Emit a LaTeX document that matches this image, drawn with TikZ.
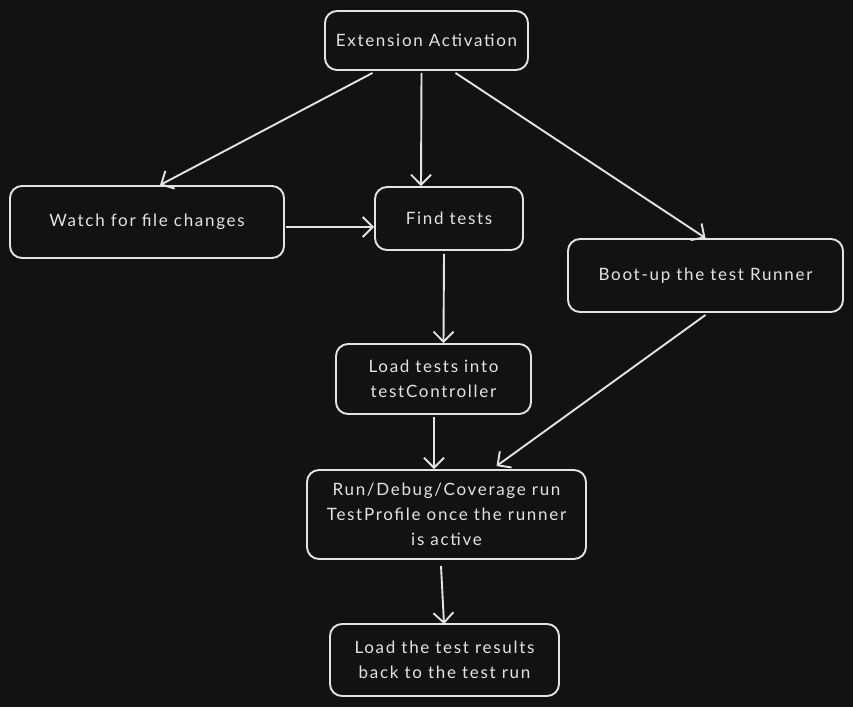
\documentclass[tikz,border=0pt]{standalone}
\usepackage{fontspec}
\setmainfont[LetterSpace=10]{Lato}
\usepackage{tikz}
\usetikzlibrary{arrows.meta, calc, positioning}

\definecolor{bgdark}{HTML}{121212}
\definecolor{chalk}{HTML}{E3E3E3}

\tikzset{
	stepbox/.style={draw=chalk, line width=1.9pt, rounded corners=12pt, text=chalk, align=center, font=\fontsize{17}{25}\selectfont, inner sep=0pt},
	flow/.style={draw=chalk, line width=1.9pt, -{Straight Barb[length=10pt,width=20pt,line width=1.9pt]}}
}

\begin{document}
\begin{tikzpicture}[x=1pt,y=-1pt]
								\fill[bgdark] (0,0) rectangle (853,707);
								\useasboundingbox (0,0) rectangle (853,707);

								\node[stepbox, minimum width=203pt, minimum height=59pt] (activate) at (426.5,40.5) {Extension Activation};
								\node[stepbox, minimum width=274pt, minimum height=72pt] (watch) at (147,222) {Watch for file changes};
								\node[stepbox, minimum width=148pt, minimum height=63pt] (find) at (449,218.5) {Find tests};
								\node[stepbox, minimum width=275pt, minimum height=73pt] (boot) at (705.5,275.5) {Boot-up the test Runner};
								\node[stepbox, minimum width=195pt, minimum height=70pt] (load) at (433.5,379) {Load tests into\\testController};
								\node[stepbox, minimum width=279pt, minimum height=89pt] (run) at (446.5,514.5) {Run/Debug/Coverage run\\TestProfile once the runner\\is active};
								\node[stepbox, minimum width=229pt, minimum height=72pt] (results) at (444.5,660) {Load the test results\\back to the test run};

								\draw[flow] ([xshift=-54pt,yshift=-2pt]activate.south) -- ([xshift=13pt]watch.north);
								\draw[flow] ([xshift=-5pt,yshift=-2pt]activate.south) -- ([xshift=-28pt]find.north);
								\draw[flow] ([xshift=29pt,yshift=-2pt]activate.south) -- (boot.north);
								\draw[flow] ([xshift=1pt,yshift=-5pt]watch.east) -- ([yshift=-8.5pt]find.west);
								\draw[flow] ([xshift=-5pt,yshift=-3pt]find.south) -- ([xshift=10pt]load.north);
								\draw[flow] ([xshift=0.5pt,yshift=-2pt]load.south) -- ([xshift=-12.5pt]run.north);
								\draw[flow] ([yshift=-2pt]boot.south) -- ([xshift=50pt,yshift=3pt]run.north);
								\draw[flow] ([xshift=-5.5pt,yshift=-6pt]run.south) -- ([xshift=-0.5pt,yshift=-1pt]results.north);
							\end{tikzpicture}
\end{document}
